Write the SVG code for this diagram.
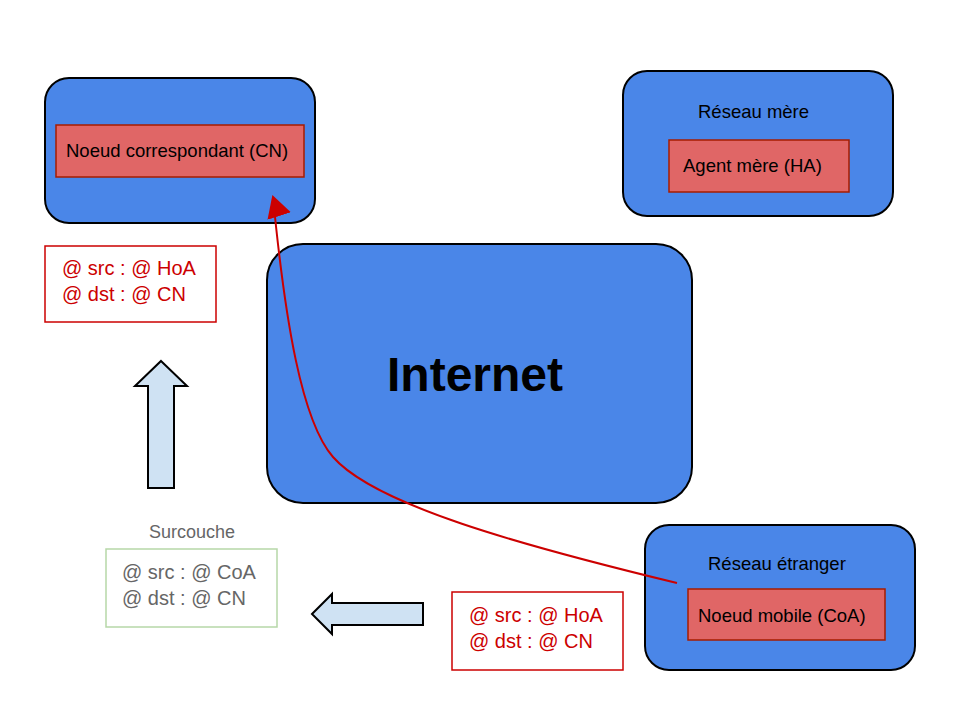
<svg xmlns="http://www.w3.org/2000/svg" width="960" height="720" viewBox="0 0 960 720">
<defs>
<style>
.net{fill:#4a86e8;stroke:#000;stroke-width:2}
.node{fill:#e06666;stroke:#a61c00;stroke-width:1.5}
.t{font-family:"Liberation Sans",Arial,sans-serif;font-size:18.5px;fill:#000}
.addr{font-family:"Liberation Sans",Arial,sans-serif;font-size:20px;fill:#cc0000}
.addrg{font-family:"Liberation Sans",Arial,sans-serif;font-size:20px;fill:#666666}
.redbox{fill:#fff;stroke:#cc0000;stroke-width:1.5}
.greenbox{fill:#fff;stroke:#b6d7a8;stroke-width:1.5}
.bigarrow{fill:#cfe2f3;stroke:#000;stroke-width:2}
</style>
<marker id="ah" markerUnits="userSpaceOnUse" markerWidth="22" markerHeight="24.5" viewBox="0 0 22 24.5" refX="20" refY="12.25" orient="-108">
<path d="M0,0 L22,12.25 L0,24.5 Z" fill="#cc0000"/>
</marker>
</defs>
<rect width="960" height="720" fill="#fff"/>
<g id="internet">
<rect class="net" x="267" y="244" width="425" height="259" rx="36"/>
<text x="475" y="391" text-anchor="middle" style="font-family:'Liberation Sans',Arial,sans-serif;font-size:48px;font-weight:bold;fill:#000">Internet</text>
</g>
<g id="cn">
<rect class="net" x="45" y="78" width="270" height="145" rx="24"/>
<rect class="node" x="56" y="125" width="248" height="52"/>
<text class="t" x="66" y="157">Noeud correspondant (CN)</text>
</g>
<g id="ha">
<rect class="net" x="623" y="71" width="270" height="145" rx="24"/>
<text class="t" x="698" y="118">Réseau mère</text>
<rect class="node" x="669" y="140" width="180" height="52"/>
<text class="t" x="683" y="172">Agent mère (HA)</text>
</g>
<g id="mn">
<rect class="net" x="645" y="525" width="270" height="145" rx="24"/>
<text class="t" x="708" y="570">Réseau étranger</text>
<rect class="node" x="688" y="589" width="197" height="51"/>
<text class="t" x="698" y="622">Noeud mobile (CoA)</text>
</g>
<g id="packet-cn">
<rect class="redbox" x="45" y="246" width="171" height="76"/>
<text class="addr" x="62" y="275">@ src : @ HoA</text>
<text class="addr" x="62" y="301">@ dst : @ CN</text>
</g>
<g id="packet-mn">
<rect class="redbox" x="452" y="592" width="171" height="78"/>
<text class="addr" x="469" y="622">@ src : @ HoA</text>
<text class="addr" x="469" y="648">@ dst : @ CN</text>
</g>
<g id="surcouche">
<text x="192" y="538" text-anchor="middle" style="font-family:'Liberation Sans',Arial,sans-serif;font-size:18px;fill:#666666">Surcouche</text>
<rect class="greenbox" x="106" y="549" width="171" height="78"/>
<text class="addrg" x="122" y="579">@ src : @ CoA</text>
<text class="addrg" x="122" y="605">@ dst : @ CN</text>
</g>
<g id="connectors">
<path d="M677,583 C520,545 375,505 333,457 C301.5,421 285,320 273,197" fill="none" stroke="#cc0000" stroke-width="2" marker-end="url(#ah)"/>
<path class="bigarrow" d="M161,361 L187,386 L174,386 L174,488 L148,488 L148,386 L135,386 Z"/>
<path class="bigarrow" d="M312,614 L332,594 L332,603 L423,603 L423,625 L332,625 L332,634 Z"/>
</g>
</svg>
